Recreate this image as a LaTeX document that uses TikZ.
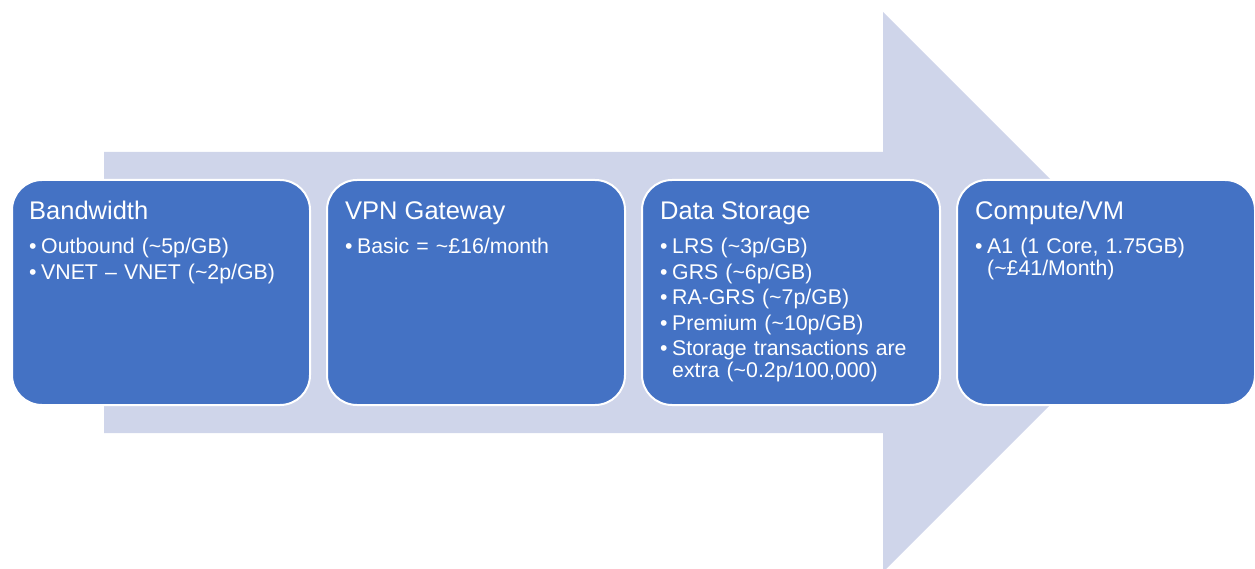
\documentclass[tikz,border=0pt]{standalone}
\usepackage{fontspec}
\setmainfont{Liberation Sans}
\usetikzlibrary{positioning}

\definecolor{boxblue}{HTML}{4472C4}
\definecolor{arrowfill}{HTML}{CFD5EA}

% one bullet line; wrapped text stays under the first word
\newcommand\bitem[1]{\makebox[12pt][l]{\textbullet}\parbox[t]{260pt}{#1}}

\tikzset{
  costbox/.style={draw=white, line width=2pt, fill=boxblue, rounded corners=30pt,
    minimum width=298pt, minimum height=225pt, inner sep=0pt},
  boxtitle/.style={text=white, anchor=base west, inner sep=0pt,
    font=\fontsize{25.5}{30}\selectfont},
  boxlist/.style={text=white, anchor=base west, inner sep=0pt, text width=275pt, align=left,
    font=\fontsize{21.3}{22}\selectfont}
}

\begin{document}
\begin{tikzpicture}[x=1pt,y=-1pt]
  \useasboundingbox (0,0) rectangle (1255,569);

  % Big arrow behind
  \fill[arrowfill] (104,152) -- (883,152) -- (883,12) -- (1163,292)
    -- (883,572) -- (883,433) -- (104,433) -- cycle;

  % Boxes
  \node[costbox, anchor=north west] (bw) at (11,179) {};
  \node[costbox, right=15pt of bw] (vpn) {};
  \node[costbox, right=15pt of vpn] (stor) {};
  \node[costbox, right=15pt of stor] (vm) {};

  % Titles
  \node[boxtitle] (bwtitle) at ([xshift=18pt,yshift=-41pt]bw.north west) {Bandwidth};
  \node[boxtitle] (vpntitle) at ([xshift=19pt,yshift=-41pt]vpn.north west) {VPN Gateway};
  \node[boxtitle] (stortitle) at ([xshift=19pt,yshift=-41pt]stor.north west) {Data Storage};
  \node[boxtitle] (vmtitle) at ([xshift=19pt,yshift=-41pt]vm.north west) {Compute/VM};

  % Cost items
  \node[boxlist] (bwlist) at ([xshift=18pt,yshift=-75pt]bw.north west)
    {\bitem{Outbound (\textasciitilde5p/GB)}\\[3.5pt]
     \bitem{VNET – VNET (\textasciitilde2p/GB)}};
  \node[boxlist] (vpnlist) at ([xshift=19pt,yshift=-75pt]vpn.north west)
    {\bitem{Basic = \textasciitilde£16/month}};
  \node[boxlist] (storlist) at ([xshift=19pt,yshift=-75pt]stor.north west)
    {\bitem{LRS (\textasciitilde3p/GB)}\\[3.5pt]
     \bitem{GRS (\textasciitilde6p/GB)}\\[3.5pt]
     \bitem{RA-GRS (\textasciitilde7p/GB)}\\[3.5pt]
     \bitem{Premium (\textasciitilde10p/GB)}\\[3.5pt]
     \bitem{Storage transactions are\newline extra (\textasciitilde0.2p/100,000)}};
  \node[boxlist] (vmlist) at ([xshift=19pt,yshift=-75pt]vm.north west)
    {\bitem{A1 (1 Core, 1.75GB)\newline (\textasciitilde£41/Month)}};
\end{tikzpicture}
\end{document}
